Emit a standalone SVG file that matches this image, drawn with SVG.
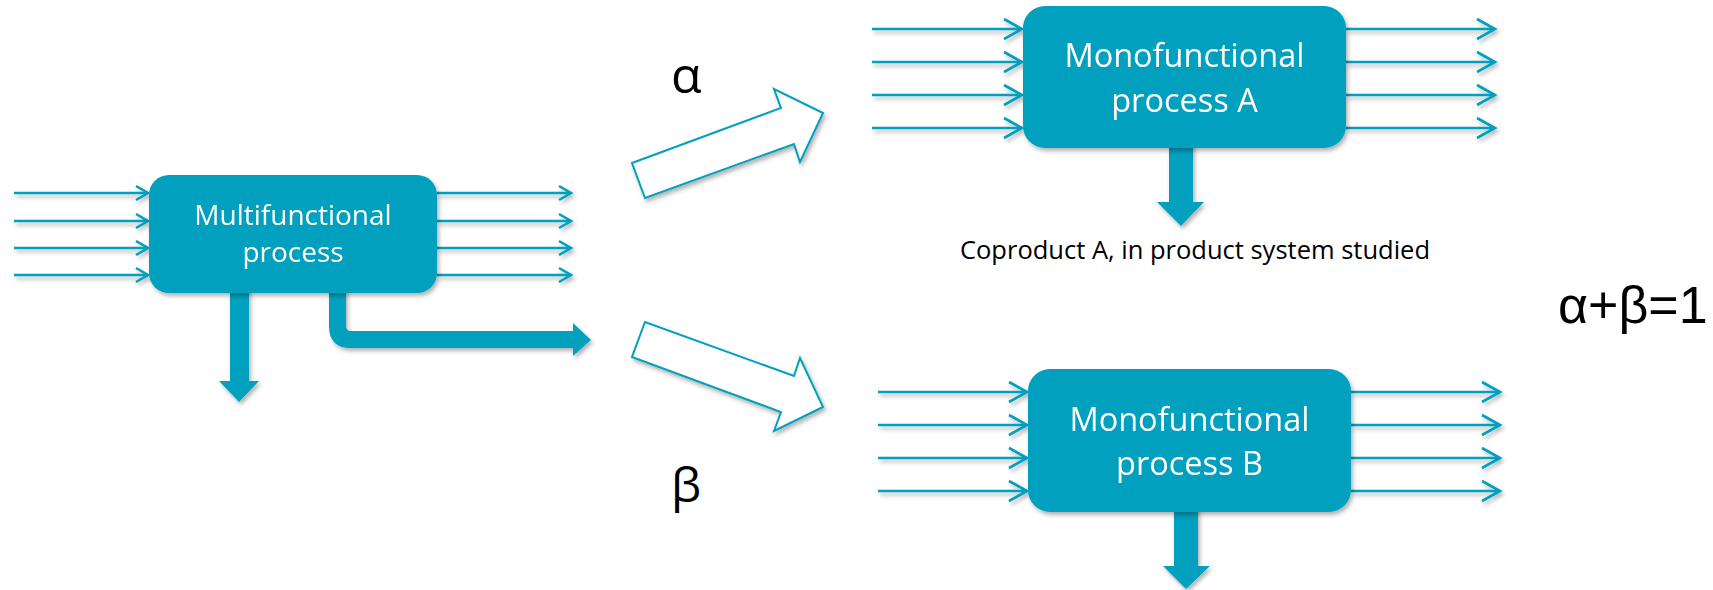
<svg xmlns="http://www.w3.org/2000/svg" width="1713" height="590" viewBox="0 0 1713 590">
<defs>
<style>
.box{fill:#02A0BE}
.flow{fill:#02A0BE}
.ln{stroke:#02A0BE;stroke-width:2.6;fill:none}
.sm{marker-end:url(#hs)}
.lg{marker-end:url(#hl)}
.hollow{fill:#fff;stroke:#02A0BE;stroke-width:2}
.bt{font-family:"Open Sans","DejaVu Sans",sans-serif;fill:#fff;text-anchor:middle}
.lbl{font-family:"Open Sans","DejaVu Sans",sans-serif;fill:#000}
</style>
<marker id="hs" markerUnits="userSpaceOnUse" markerWidth="20" markerHeight="20" viewBox="-16 -10 18 20" refX="0" refY="0" orient="auto" overflow="visible">
<path d="M-12,-7 L0,0 L-12,7" fill="none" stroke="#02A0BE" stroke-width="2.6"/>
</marker>
<marker id="hl" markerUnits="userSpaceOnUse" markerWidth="26" markerHeight="26" viewBox="-22 -13 24 26" refX="0" refY="0" orient="auto" overflow="visible">
<path d="M-18,-10 L0,0 L-18,10" fill="none" stroke="#02A0BE" stroke-width="2.6"/>
</marker>
<filter id="sh" x="-20%" y="-20%" width="140%" height="160%">
<feDropShadow dx="2" dy="3" stdDeviation="2" flood-color="#000" flood-opacity="0.3"/>
</filter>
</defs>

<g id="connectors" filter="url(#sh)">
<g class="ln sm">
<line x1="14" y1="193" x2="148" y2="193"/>
<line x1="14" y1="221" x2="148" y2="221"/>
<line x1="14" y1="248" x2="148" y2="248"/>
<line x1="14" y1="275" x2="148" y2="275"/>
<line x1="437" y1="193" x2="571" y2="193"/>
<line x1="437" y1="221" x2="571" y2="221"/>
<line x1="437" y1="248" x2="571" y2="248"/>
<line x1="437" y1="275" x2="571" y2="275"/>
</g>
<g class="ln lg">
<line x1="872" y1="29" x2="1022" y2="29"/>
<line x1="872" y1="62" x2="1022" y2="62"/>
<line x1="872" y1="95" x2="1022" y2="95"/>
<line x1="872" y1="128" x2="1022" y2="128"/>
<line x1="1346" y1="29" x2="1495" y2="29"/>
<line x1="1346" y1="62" x2="1495" y2="62"/>
<line x1="1346" y1="95" x2="1495" y2="95"/>
<line x1="1346" y1="128" x2="1495" y2="128"/>
</g>
<g class="ln lg">
<line x1="878" y1="392" x2="1027" y2="392"/>
<line x1="878" y1="425" x2="1027" y2="425"/>
<line x1="878" y1="458" x2="1027" y2="458"/>
<line x1="878" y1="491" x2="1027" y2="491"/>
<line x1="1351" y1="392" x2="1500" y2="392"/>
<line x1="1351" y1="425" x2="1500" y2="425"/>
<line x1="1351" y1="458" x2="1500" y2="458"/>
<line x1="1351" y1="491" x2="1500" y2="491"/>
</g>
<path class="flow" d="M230,285 L249,285 L249,381 L259,381 L239,402 L219,381 L230,381 Z"/>
<path class="flow" d="M329,285 L329,326 Q329,348 351,348 L573,348 L573,356 L591,340 L573,323 L573,331 L351,331 Q346,331 346,326 L346,285 Z"/>
<path class="flow" d="M1169,140 L1193,140 L1193,202 L1204,202 L1181,226 L1157,202 L1169,202 Z"/>
<path class="flow" d="M1174,505 L1198,505 L1198,566 L1210,566 L1186,589 L1163,566 L1174,566 Z"/>
<polygon class="hollow" points="632,163 781,108 774,89 823,113 800,162 794,144 645,198"/>
<polygon class="hollow" points="632,357 781,412 774,431 823,407 800,358 794,376 645,322"/>
</g>

<g id="node-multi" filter="url(#sh)">
<rect class="box" x="149" y="175" width="288" height="118" rx="20"/>
<text class="bt" font-size="28" x="293" y="225">Multifunctional</text>
<text class="bt" font-size="28" x="293" y="262">process</text>
</g>

<g id="node-a" filter="url(#sh)">
<rect class="box" x="1023" y="6" width="323" height="142" rx="22"/>
<text class="bt" font-size="32.5" x="1184.5" y="67">Monofunctional</text>
<text class="bt" font-size="32.5" x="1184.5" y="112">process A</text>
</g>

<g id="node-b" filter="url(#sh)">
<rect class="box" x="1028" y="369" width="323" height="143" rx="22"/>
<text class="bt" font-size="32.5" x="1189.5" y="431">Monofunctional</text>
<text class="bt" font-size="32.5" x="1189.5" y="475">process B</text>
</g>

<g id="labels">
<text class="lbl" font-size="25.5" x="1195" y="259" text-anchor="middle">Coproduct A, in product system studied</text>
<text class="lbl" font-size="50" x="671" y="93">α</text>
<text class="lbl" font-size="48" x="671" y="502">β</text>
<text font-family="'Liberation Sans',Arial,sans-serif" font-size="52" x="1558" y="323" fill="#000">α+β=1</text>
</g>
</svg>
